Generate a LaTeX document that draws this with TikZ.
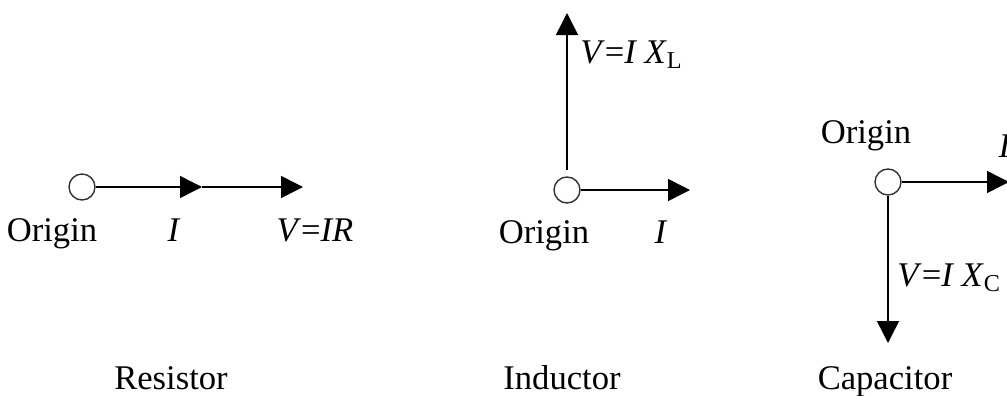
\documentclass[tikz,border=0pt]{standalone}
\usepackage{fontspec}
\setmainfont{Liberation Serif}
\usetikzlibrary{arrows.meta,positioning}

\begin{document}
\begin{tikzpicture}[x=0.5pt,y=-0.5pt,
  font=\fontsize{17.3}{20}\selectfont,
  origin/.style={circle,draw=black!80,line width=0.7pt,minimum size=13pt,inner sep=0pt},
  vec/.style={line width=0.75pt,-{Triangle[length=11pt,width=11pt]}},
  lbl/.style={anchor=base,inner sep=0pt}]
\useasboundingbox (0,0) rectangle (1007,396);
% Resistor
\node[origin] (ro) at (82,187) {};
\coordinate (ri) at (202,187);
\coordinate (rv) at (303,187);
\draw[vec] (ro) -- (ri);
\draw[vec] (ri) -- (rv);
\node[lbl] (rorig) at (52,241) {Origin};
\node[lbl] (rilbl) at (174,241) {\textit{I}};
\node[lbl] (rvlbl) at (315,241) {\textit{V}=\textit{IR}};
\node[lbl] (rname) at (171,389) {Resistor};
% Inductor
\node[origin] (lo) at (567,190) {};
\coordinate (lv) at (567,13);
\coordinate (li) at (690,190);
\draw[vec,shorten <=3pt] (lo) -- (lv);
\draw[vec] (lo) -- (li);
\node[lbl] (lorig) at (544,243) {Origin};
\node[lbl] (lilbl) at (661,243) {\textit{I}};
\node[lbl,anchor=base west] (lvlbl) at (580,63) {\textit{V}=\textit{I X}\textsubscript{L}};
\node[lbl] (lname) at (562,389) {Inductor};
% Capacitor
\node[origin] (co) at (888,182) {};
\coordinate (ci) at (1009,182);
\coordinate (cv) at (888,343);
\draw[vec] (co) -- (ci);
\draw[vec] (co) -- (cv);
\node[lbl] (corig) at (866,143) {Origin};
\node[lbl] (cilbl) at (1005,157) {\textit{I}};
\node[lbl,anchor=base west] (cvlbl) at (897,286) {\textit{V}=\textit{I X}\textsubscript{C}};
\node[lbl] (cname) at (885,389) {Capacitor};
\end{tikzpicture}
\end{document}
